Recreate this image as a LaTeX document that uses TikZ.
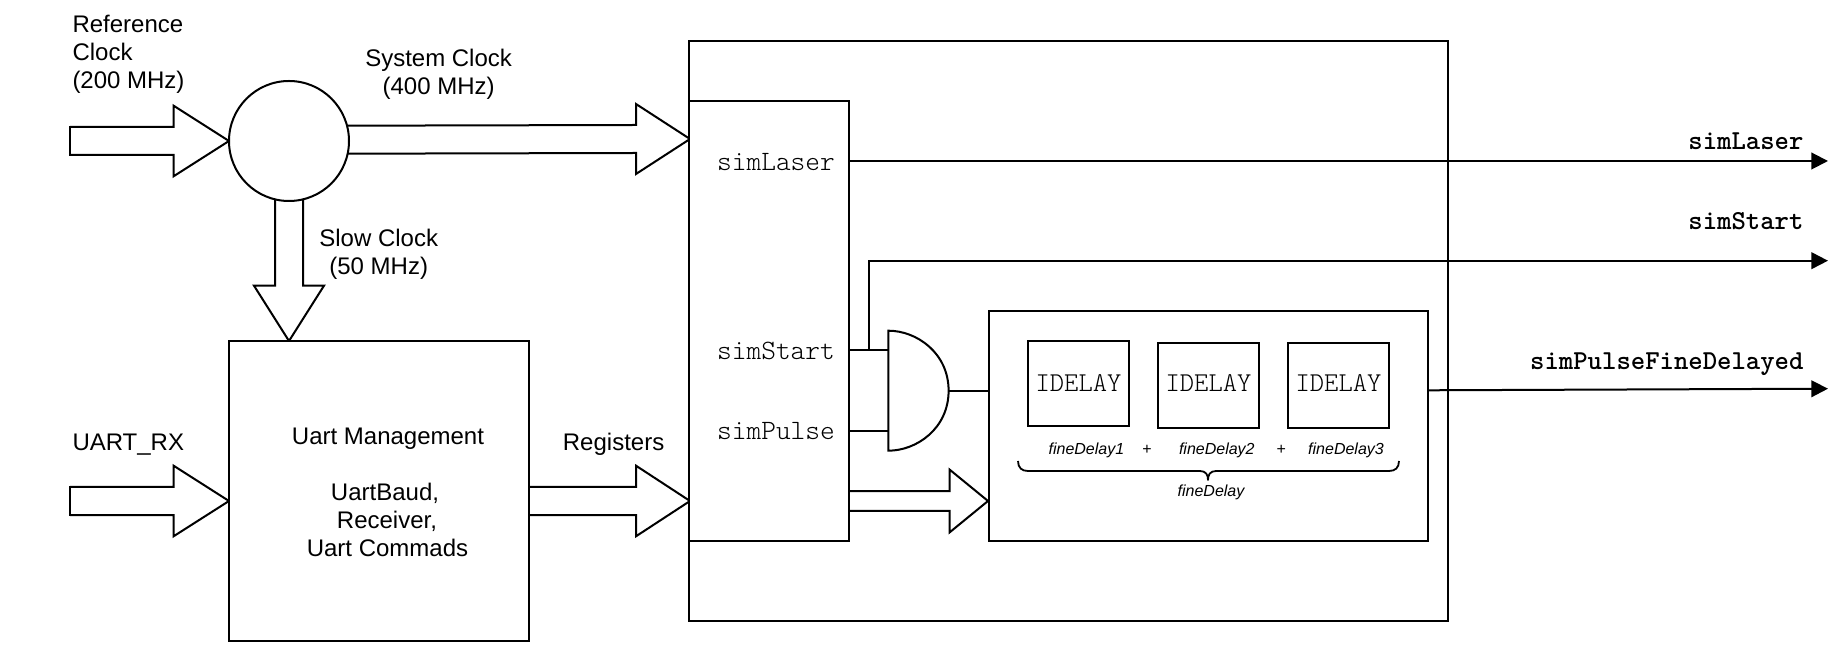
\documentclass[tikz,border=0pt]{standalone}
\usepackage{fontspec}
\setmainfont{Liberation Sans}
\usetikzlibrary{arrows.meta,backgrounds,calc}
\tikzset{
  px/.style={x=0.5pt,y=-0.5pt},
  wire/.style={line width=1pt,draw=black},
  box/.style={draw=black,fill=white,line width=1pt,inner sep=0pt,outer sep=0pt,rectangle},
  lbl/.style={inner sep=0pt,outer sep=0pt,font=\fontsize{12}{14}\selectfont},
  sig/.style={inner sep=0pt,outer sep=0pt,font=\fontsize{14}{15}\selectfont\ttfamily\fontseries{l}\selectfont},
  dly/.style={inner sep=0pt,outer sep=0pt,anchor=base,font=\fontsize{13.6}{15}\selectfont\ttfamily\fontseries{l}\selectfont},
  outlbl/.style={inner sep=0pt,outer sep=0pt,anchor=base east,font=\fontsize{13.7}{15}\selectfont\ttfamily\bfseries},
  smalllbl/.style={inner sep=0pt,outer sep=0pt,anchor=base,font=\fontsize{8}{10}\selectfont\itshape},
  outarrow/.style={wire,-{Triangle[length=8.3pt,width=8.3pt]}}
}
% horizontal block arrow: start, tip, half shaft, half head, head base x
\newcommand{\harrow}[6][]{%
  \draw[wire,line join=miter,#1] let \p1=#2,\p2=#3 in
    (\x1,\y1+#4*0.5pt) -- (#6*0.5pt,\y2+#4*0.5pt) -- (#6*0.5pt,\y2+#5*0.5pt) -- (\x2,\y2)
    -- (#6*0.5pt,\y2-#5*0.5pt) -- (#6*0.5pt,\y2-#4*0.5pt) -- (\x1,\y1-#4*0.5pt);}
\begin{document}
\begin{tikzpicture}[px]
\useasboundingbox (0,0) rectangle (1848,656);
% boxes
\node[box,fill=none,minimum width=379.7pt,minimum height=290pt] (top) at (1068.7,331) {};
\node[box,minimum width=80pt,minimum height=220pt] (inner) at (769,321) {};
\node[box,minimum width=150pt,minimum height=150pt] (uart) at (379,491) {};
\node[box,minimum width=219.8pt,minimum height=115pt] (delay) at (1208.3,426) {};
\node[box,minimum width=50.5pt,minimum height=42.5pt] (id1) at (1078.5,383.5) {};
\node[box,minimum width=50.5pt,minimum height=42.5pt] (id2) at (1208.5,385.5) {};
\node[box,minimum width=50.5pt,minimum height=42.5pt] (id3) at (1338.5,385.5) {};
\node[box,circle,minimum size=60pt] (pll) at (289,141) {};
% text in boxes
\node[dly] (t1) at (1078.5,392) {IDELAY};
\node[dly] (t2) at (1208.5,392) {IDELAY};
\node[dly] (t3) at (1338.5,392) {IDELAY};
\node[sig,anchor=base] (sL) at (776,171) {simLaser};
\node[sig,anchor=base] (sS) at (776,360) {simStart};
\node[sig,anchor=base] (sP) at (776,440) {simPulse};
% coordinates on box edges
\coordinate (refTail) at (70,141);
\coordinate (uartTail) at (70,501);
\coordinate (sysTip) at (690,139);
\coordinate (regTip) at (690,501);
\coordinate (dlyTip) at (988,501);
\coordinate (dlyFrom) at (849,501);
\coordinate (laserFrom) at (849,161);
\coordinate (laserEnd) at (1828,161);
\coordinate (startFrom) at (849,350.3);
\coordinate (startTap) at (869,350.3);
\coordinate (startCorner) at (869,260.7);
\coordinate (startEnd) at (1828,260.7);
\coordinate (pulseFrom) at (849,430.7);
\coordinate (finalFrom) at (1428.6,390.3);
\coordinate (finalEnd) at (1828,388.7);
% block arrows
\begin{pgfonlayer}{background}
\draw[wire,line cap=rect] (refTail) ++(0,-14) -- ++(0,28);
\harrow{(refTail)}{(pll.west)}{14}{35.3}{173.6}
\harrow{($(pll.east)+(-3,-1.3)$)}{(sysTip)}{14}{35}{636}
\harrow{(uart.east |- regTip)}{(regTip)}{14.2}{35.3}{636}
\draw[wire,line cap=rect] (uartTail) ++(0,-14.2) -- ++(0,28.4);
\harrow{(uartTail)}{(uart.west |- uartTail)}{14.2}{35.3}{173.6}
\draw[wire,line join=miter] ($(pll.south)+(-14,-3)$) -- ($(pll.south)+(-14,84.7)$) -- ($(pll.south)+(-35,84.7)$) -- (uart.north -| pll.south)
  -- ($(pll.south)+(35,84.7)$) -- ($(pll.south)+(14,84.7)$) -- ($(pll.south)+(14,-3)$);
\end{pgfonlayer}
\harrow{(dlyFrom)}{(dlyTip)}{9.8}{31.4}{949.6}
% gate
\node[inner sep=0pt,outer sep=0pt,minimum width=30.1pt,minimum height=60pt] (gate) at (918.5,390.7) {};
\draw[wire,fill=white,line join=miter] (gate.north west) .. controls ++(28,0) and ++(0,-38) .. (gate.east) .. controls ++(0,38) and ++(28,0) .. (gate.south west) -- cycle;
\draw[wire] (startFrom) -- (startFrom -| gate.west);
\draw[wire] (pulseFrom) -- (pulseFrom -| gate.west);
\draw[wire] (gate.east) -- (gate.east -| delay.west);
% outputs
\draw[outarrow] (laserFrom) -- (laserEnd);
\draw[outarrow] (startTap) -- (startCorner) -- (startEnd);
\draw[outarrow] (finalFrom) -- (finalEnd);
\node[outlbl] (oL) at (1803.5,149.5) {simLaser};
\node[outlbl] (oS) at (1803.5,229.5) {simStart};
\node[outlbl] (oF) at (1803.5,369.5) {simPulseFineDelayed};
% sans labels
\node[lbl,anchor=base west] (refA) at (72.5,32.6) {Reference};
\node[lbl,anchor=base west] (refB) at (72.5,61) {Clock};
\node[lbl,anchor=base west] (refC) at (72.5,89) {(200 MHz)};
\node[lbl,anchor=base] (sysA) at (438.6,67) {System Clock};
\node[lbl,anchor=base] (sysB) at (438.6,95) {(400 MHz)};
\node[lbl,anchor=base] (slowA) at (378.7,247) {Slow Clock};
\node[lbl,anchor=base] (slowB) at (378.7,275) {(50 MHz)};
\node[lbl,anchor=base west] (rx) at (72.5,451) {UART\_RX};
\node[lbl,anchor=base] (regs) at (613.6,451) {Registers};
\node[lbl,anchor=base] (um1) at (388,445) {Uart Management};
\node[lbl,anchor=base] (um2) at (385,501) {UartBaud,};
\node[lbl,anchor=base] (um3) at (387,529) {Receiver,};
\node[lbl,anchor=base] (um4) at (387.5,557) {Uart Commads};
% fine delay
\node[smalllbl] (f1) at (1086.4,455) {fineDelay1};
\node[smalllbl,font=\fontsize{8}{10}\selectfont] (p1) at (1147,455) {+};
\node[smalllbl] (f2) at (1216.8,455) {fineDelay2};
\node[smalllbl,font=\fontsize{8}{10}\selectfont] (p2) at (1281.4,455) {+};
\node[smalllbl] (f3) at (1346,455) {fineDelay3};
\node[smalllbl] (f) at (1211,497) {fineDelay};
\coordinate (brL) at (1018,461);
\coordinate (brR) at (1399,461);
\coordinate (brM) at (1208,480);
\draw[line width=0.9pt,line join=round]
  (brL) .. controls ++(0,7) and ++(-6,0) .. ++(10,10) -- ($(brM)+(-8,-9)$)
  .. controls ++(6,0) and ++(0,-5) .. (brM)
  .. controls ++(0,-5) and ++(-6,0) .. ($(brM)+(8,-9)$) -- ($(brR)+(-10,10)$)
  .. controls ++(6,0) and ++(0,7) .. (brR);
\end{tikzpicture}
\end{document}
